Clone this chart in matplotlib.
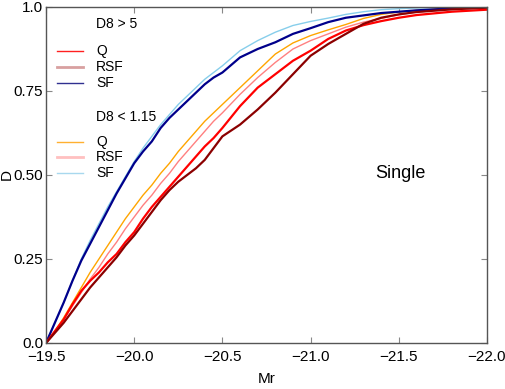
import matplotlib
matplotlib.use('Agg')
import matplotlib.pyplot as plt
from matplotlib.lines import Line2D

plt.rcParams['font.family'] = ['Liberation Sans', 'DejaVu Sans']

# absolute magnitude grid
mr = [-19.5, -19.55, -19.6, -19.65, -19.7, -19.75, -19.8, -19.85, -19.9, -19.95, -20.0,
      -20.05, -20.1, -20.15, -20.2, -20.25, -20.3, -20.35, -20.4, -20.45, -20.5,
      -20.6, -20.7, -20.8, -20.9, -21.0, -21.1, -21.2, -21.3, -21.4, -21.5, -21.6, -21.8, -22.0]

# D8 > 5
q_hi = [0, .035, .07, .115, .155, .185, .21, .24, .265, .30, .33,
        .37, .405, .435, .465, .495, .525, .555, .585, .61, .64,
        .705, .76, .80, .84, .87, .905, .93, .946, .958, .968, .976, .986, .992]
rsf_hi = [0, .03, .06, .095, .13, .165, .195, .225, .255, .29, .32,
          .355, .39, .425, .455, .48, .50, .52, .545, .58, .615,
          .65, .695, .745, .80, .855, .89, .92, .95, .968, .978, .985, .993, .998]
sf_hi = [0, .06, .12, .185, .245, .295, .345, .395, .445, .49, .535,
         .57, .60, .64, .67, .695, .72, .745, .77, .79, .805,
         .85, .875, .895, .92, .937, .955, .968, .975, .982, .986, .99, .996, 1.0]

# D8 < 1.15
q_lo = [0, .035, .075, .12, .165, .21, .25, .29, .33, .37, .405,
        .44, .47, .505, .535, .57, .60, .63, .66, .685, .71,
        .76, .81, .86, .893, .915, .932, .948, .966, .978, .985, .99, .996, 1.0]
rsf_lo = [0, .033, .07, .11, .15, .19, .225, .265, .30, .34, .375,
          .41, .44, .475, .505, .54, .57, .60, .63, .66, .685,
          .74, .79, .835, .875, .90, .92, .94, .955, .966, .977, .985, .993, .998]
sf_lo = [0, .06, .12, .185, .25, .305, .355, .405, .45, .495, .54,
         .58, .615, .65, .68, .71, .735, .76, .785, .805, .825,
         .87, .90, .925, .945, .957, .967, .978, .986, .992, .995, .997, .999, 1.0]

xticks = [-19.5, -20.0, -20.5, -21.0, -21.5, -22.0]
xlabels = ['\u221219.5', '\u221220.0', '\u221220.5', '\u221221.0', '\u221221.5', '\u221222.0']
yticks = [0.0, 0.25, 0.5, 0.75, 1.0]
ylabels = ['0.0', '0.25', '0.50', '0.75', '1.0']

fig = plt.figure(figsize=(5.06, 3.89), dpi=100)
ax = fig.add_axes([46/506, 46/389, 441/506, 336/389])

ax.plot(mr, sf_lo, color='#87ceeb', lw=1.0)
ax.plot(mr, q_lo, color='#ffa500', lw=1.0)
ax.plot(mr, rsf_lo, color='#ff8080', lw=1.0)
ax.plot(mr, sf_hi, color='#00008b', lw=1.6)
ax.plot(mr, q_hi, color='#ff0000', lw=1.6)
ax.plot(mr, rsf_hi, color='#8b0000', lw=1.6)

ax.set_xlim(-19.5, -22.0)
ax.set_ylim(0, 1)
ax.set_xticks(xticks)
ax.set_xticklabels(xlabels)
ax.set_yticks(yticks)
ax.set_yticklabels(ylabels)
ax.tick_params(direction='in', top=True, right=True, length=4, width=0.8,
               color='#888888', labelsize=11)
ax.tick_params(axis='x', pad=5)
ax.tick_params(axis='y', pad=2)
for s in ax.spines.values():
    s.set_color('#555555')
    s.set_linewidth(1.0)
ax.set_xlabel('Mr', fontsize=11, labelpad=6)
ax.set_ylabel('D', fontsize=11, labelpad=0)

# legend drawn by hand: headings plus short handles
legend_rows = [
    ('D8 > 5', None, 1.0, 24),
    ('Q', '#ff2020', 1.0, 51),
    ('RSF', '#d8a0a0', 2.0, 67),
    ('SF', '#303090', 1.0, 83),
    ('D8 < 1.15', None, 1.0, 117),
    ('Q', '#ffb030', 1.0, 142),
    ('RSF', '#ffc0c0', 2.0, 157),
    ('SF', '#a8d8ee', 1.0, 173),
]
for label, col, lw, ypix in legend_rows:
    yy = (343 - ypix) / 336
    if col is not None:
        ax.add_line(Line2D([(57-46)/441, (83-46)/441], [yy, yy], color=col, lw=lw,
                           transform=ax.transAxes))
    ax.text((96-46)/441, yy, label, transform=ax.transAxes, fontsize=10,
            va='center', ha='left')

ax.text((400-46)/441, (343-174)/336, 'Single', transform=ax.transAxes,
        fontsize=13, ha='center', va='center')

fig.savefig('out.png', dpi=100)
